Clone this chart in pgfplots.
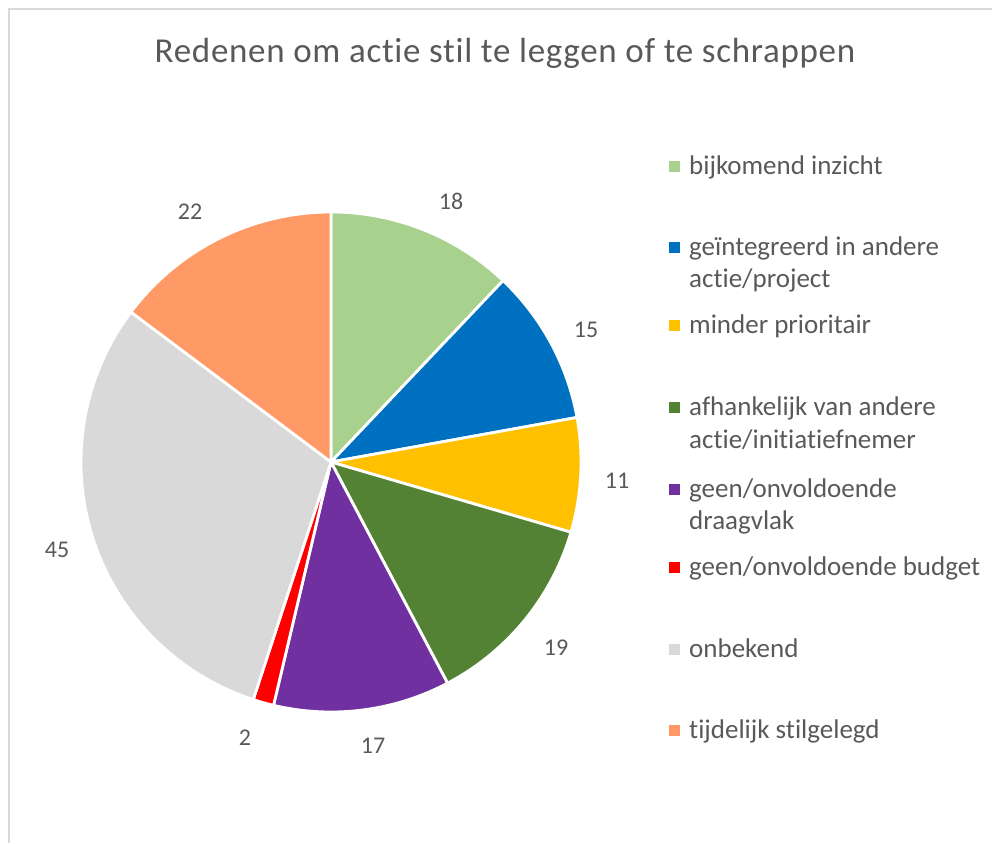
\documentclass[border=0pt]{standalone}
\usepackage{pgfplots}
\usepackage{pgfplotstable}
\pgfplotsset{compat=1.18}
\usepackage{fontspec}
\setmainfont{Carlito}[RawFeature={-liga;-dlig;-clig}]
\newfontfamily\titlefont{Carlito}[RawFeature={-liga;-dlig;-clig}, LetterSpace=2]
\definecolor{txt}{HTML}{595959}
\definecolor{frame}{HTML}{D9D9D9}
\definecolor{cA}{HTML}{A9D18E}
\definecolor{cB}{HTML}{0070C0}
\definecolor{cC}{HTML}{FFC000}
\definecolor{cD}{HTML}{548235}
\definecolor{cE}{HTML}{7030A0}
\definecolor{cF}{HTML}{FF0000}
\definecolor{cG}{HTML}{D9D9D9}
\definecolor{cH}{HTML}{FF9966}
\tikzset{lbl/.style={text=txt, font=\fontsize{24}{28}\selectfont, inner sep=0pt, anchor=center},
  leg/.style={text=txt, anchor=base west, font=\fontsize{27}{33}\selectfont, inner sep=0pt}}

% value, colour, label position (px)
\pgfplotstableread{
value color lx ly
18 cA 451 201
15 cB 586 330
11 cC 617 481
19 cD 556 648
17 cE 373 746
2 cF 245 738
45 cG 57 550
22 cH 190 212
}\piedata

\begin{document}
\begin{tikzpicture}
\begin{axis}[hide axis, scale only axis, width=992pt, height=843pt,
  xmin=0, xmax=992, ymin=0, ymax=843, y dir=reverse, clip=false, anchor=south west, at={(0,0)}]
% total
\def\total{0}
\pgfplotsforeachungrouped \idx in {0,...,7}{%
  \pgfplotstablegetelem{\idx}{value}\of\piedata
  \pgfmathsetmacro\newtot{\total+\pgfplotsretval}%
  \global\let\total\newtot
}
\def\cum{0}
\pgfplotsforeachungrouped \idx in {0,...,7}{%
  \pgfplotstablegetelem{\idx}{value}\of\piedata \let\sval\pgfplotsretval
  \pgfplotstablegetelem{\idx}{color}\of\piedata \let\scol\pgfplotsretval
  \pgfplotstablegetelem{\idx}{lx}\of\piedata \let\slx\pgfplotsretval
  \pgfplotstablegetelem{\idx}{ly}\of\piedata \let\sly\pgfplotsretval
  \pgfmathsetmacro\nxt{\cum+\sval}%
  \edef\temp{\noexpand\addplot[fill=\scol, draw=white, line width=2.8pt, line join=round, domain=\cum:\nxt, samples=90, forget plot]
     ({331+250*sin(360*x/\total)},{462-250*cos(360*x/\total)}) -- (axis cs:331,462) -- cycle;
     \noexpand\node[lbl] at (axis cs:\slx,\sly) {\sval};}%
  \temp
  \global\let\cum\nxt
}
% frame
\draw[frame, line width=2pt] (axis cs:9,843) -- (axis cs:9,9) -- (axis cs:992,9);
% title
\node[text=txt, anchor=base, font=\titlefont\fontsize{35}{40}\selectfont, inner sep=0pt] at (axis cs:505,62.3) {Redenen om actie stil te leggen of te schrappen};
% legend
\fill[cA] (axis cs:669,161) rectangle (axis cs:680,172);
\node[leg] at (axis cs:689,174) {bijkomend inzicht};
\fill[cB] (axis cs:669,242) rectangle (axis cs:680,253);
\node[leg] at (axis cs:689,255) {geïntegreerd in andere};
\node[leg] at (axis cs:689,287) {actie/project};
\fill[cC] (axis cs:669,320) rectangle (axis cs:680,331);
\node[leg] at (axis cs:689,333) {minder prioritair};
\fill[cD] (axis cs:669,402) rectangle (axis cs:680,413);
\node[leg] at (axis cs:689,415) {afhankelijk van andere};
\node[leg] at (axis cs:689,448) {actie/initiatiefnemer};
\fill[cE] (axis cs:669,484) rectangle (axis cs:680,495);
\node[leg] at (axis cs:689,497) {geen/onvoldoende};
\node[leg] at (axis cs:689,529) {draagvlak};
\fill[cF] (axis cs:669,562) rectangle (axis cs:680,573);
\node[leg] at (axis cs:689,575) {geen/onvoldoende budget};
\fill[cG] (axis cs:669,644) rectangle (axis cs:680,655);
\node[leg] at (axis cs:689,657) {onbekend};
\fill[cH] (axis cs:669,725) rectangle (axis cs:680,736);
\node[leg] at (axis cs:689,738) {tijdelijk stilgelegd};
\end{axis}
\pgfresetboundingbox
\useasboundingbox (0,0) rectangle (992pt,843pt);
\end{tikzpicture}
\end{document}
